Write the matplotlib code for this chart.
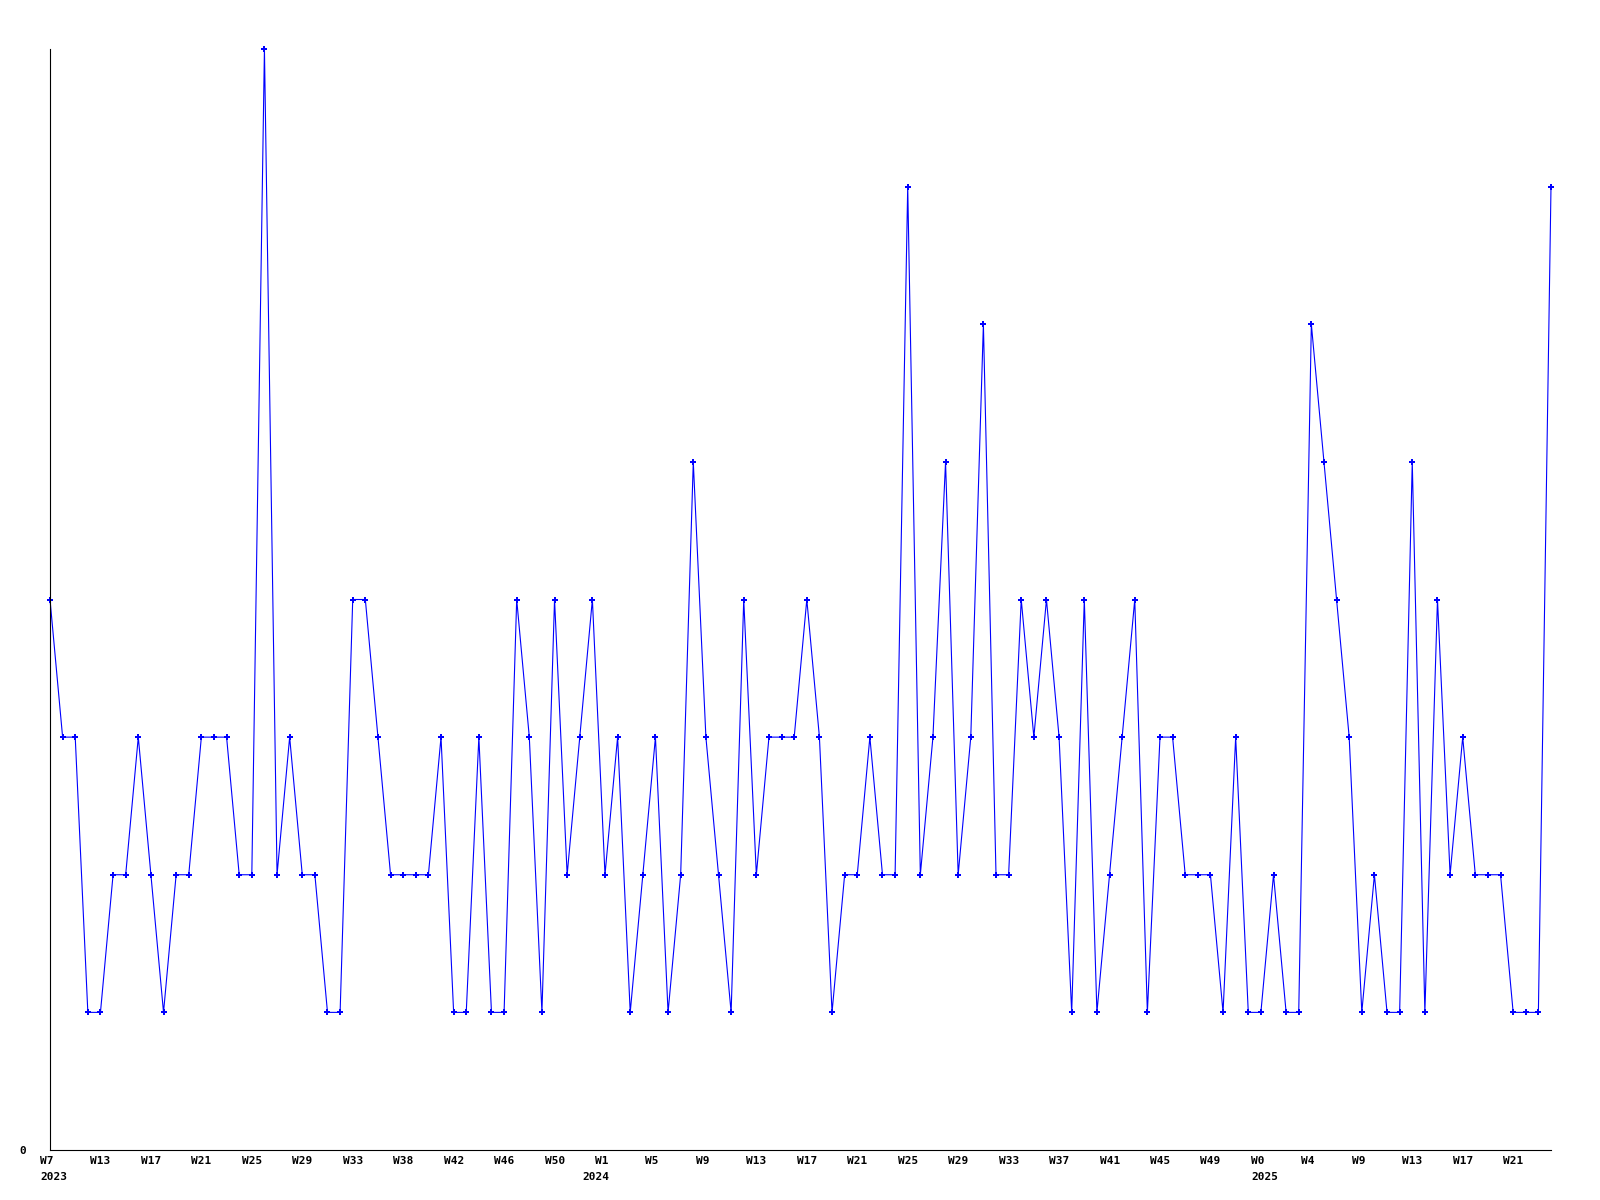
"""
Weekly counts line chart, rendered headless to out.png.
"""

import numpy as np
import matplotlib
matplotlib.use("Agg")  # no display in the sandbox
import matplotlib.pyplot as plt
from matplotlib.transforms import ScaledTranslation, offset_copy

# weekly values
counts = [
    4, 3, 3, 1, 1, 2, 2, 3, 2, 1,
    2, 2, 3, 3, 3, 2, 2, 8, 2, 3,
    2, 2, 1, 1, 4, 4, 3, 2, 2, 2,
    2, 3, 1, 1, 3, 1, 1, 4, 3, 1,
    4, 2, 3, 4, 2, 3, 1, 2, 3, 1,
    2, 5, 3, 2, 1, 4, 2, 3, 3, 3,
    4, 3, 1, 2, 2, 3, 2, 2, 7, 2,
    3, 5, 2, 3, 6, 2, 2, 4, 3, 4,
    3, 1, 4, 1, 2, 3, 4, 1, 3, 3,
    2, 2, 2, 1, 3, 1, 1, 2, 1, 1,
    6, 5, 4, 3, 1, 2, 1, 1, 5, 1,
    4, 2, 3, 2, 2, 2, 1, 1, 1, 7,
]

# one label every 4th point
week_labels = [
    "W7", "W13", "W17", "W21", "W25", "W29", "W33", "W38", "W42", "W46",
    "W50", "W1", "W5", "W9", "W13", "W17", "W21", "W25", "W29", "W33",
    "W37", "W41", "W45", "W49", "W0", "W4", "W9", "W13", "W17", "W21",
]
years = ["2023", "2024", "2025"]
year_idx = [0, 43, 96]

plt.rcParams["font.family"] = "DejaVu Sans Mono"
plt.rcParams["font.weight"] = "bold"

fig = plt.figure(figsize=(16, 12), dpi=100)
ax = fig.add_axes([50 / 1600, 50 / 1200, 1501 / 1600, 1101 / 1200])

x = np.arange(len(counts))
ax.plot(x, counts, color="#0000ff", linewidth=0.8,
        marker="P", markersize=4.6, markeredgewidth=0, clip_on=False)

ax.set_xlim(0, len(counts) - 1)
ax.set_ylim(0, 8)

# axes look: only left and bottom lines, no tick marks
for side in ("top", "right"):
    ax.spines[side].set_visible(False)
for side in ("left", "bottom"):
    ax.spines[side].set_color("black")
    ax.spines[side].set_linewidth(0.8)

ax.set_yticks([0])
ax.set_yticklabels(["0"])
ax.tick_params(axis="y", length=0, pad=17, labelsize=8)

ax.set_xticks(x[::4])
ax.set_xticklabels(week_labels, ha="left")
ax.tick_params(axis="x", length=0, pad=4, labelsize=8)
shift = ScaledTranslation(-0.1, 0, fig.dpi_scale_trans)
for lbl in ax.get_xticklabels():
    lbl.set_transform(lbl.get_transform() + shift)

# year line under the week labels
year_trans = offset_copy(ax.get_xaxis_transform(), fig=fig, x=-10, y=-27, units="dots")
for xi, yr in zip(year_idx, years):
    ax.text(xi, 0, yr, transform=year_trans, ha="left", va="center",
            fontsize=8, fontweight="bold")

fig.savefig("out.png", dpi=100)
plt.close(fig)
